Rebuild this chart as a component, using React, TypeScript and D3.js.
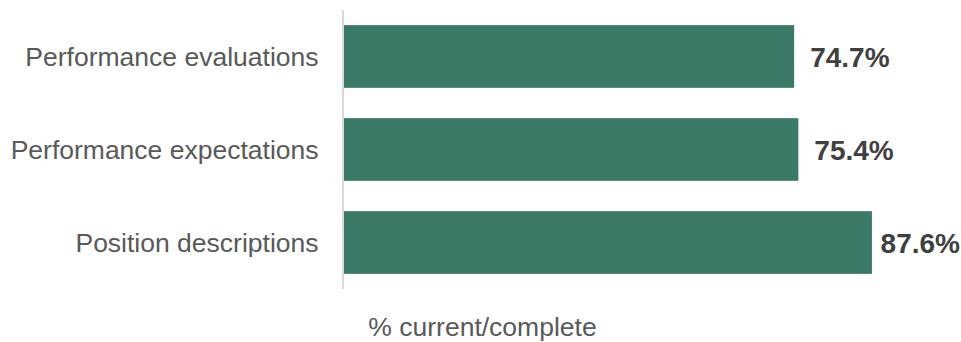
import React from "react";
import * as d3 from "d3";

const categories = ["Performance evaluations", "Performance expectations", "Position descriptions"];
const values = [74.7, 75.4, 87.6];
const valueLabels = ["74.7%", "75.4%", "87.6%"];
const axisTitle = "% current/complete";

const W = 961;
const H = 342;

export default function App() {
  const x = d3.scaleLinear().domain([0, 100]).range([343.7, 946.7]);
  const y = d3
    .scaleBand<string>()
    .domain(categories)
    .range([10, 289])
    .paddingInner(0.326)
    .paddingOuter(0.163);
  const font = "Arial, 'Liberation Sans', sans-serif";
  const valueFont = 28;
  const labelWidth = valueFont * 2.8;
  return (
    <svg
      width={W}
      height={H}
      style={{ position: "absolute", left: 0, top: 0, background: "#fff" }}
      fontFamily={font}
    >
      {categories.map((c, i) => {
        const y0 = y(c)!;
        const cy = y0 + y.bandwidth() / 2;
        const lx = Math.min(x(values[i]) + 16, W - 2 - labelWidth);
        return (
          <g key={c}>
            <rect x={x(0)} y={y0} width={x(values[i]) - x(0)} height={y.bandwidth()} fill="#3a7867" />
            <text x={318.5} y={cy + 9} textAnchor="end" fontSize={26.5} fill="#595959">
              {c}
            </text>
            <text x={lx} y={cy + 10.5} fontSize={valueFont} fontWeight="bold" fill="#404040">
              {valueLabels[i]}
            </text>
          </g>
        );
      })}
      <line x1={343} x2={343} y1={y.range()[0]} y2={y.range()[1]} stroke="#d9d9d9" strokeWidth={2} />
      <text x={482.5} y={336} textAnchor="middle" fontSize={26.5} fill="#595959">
        {axisTitle}
      </text>
    </svg>
  );
}
